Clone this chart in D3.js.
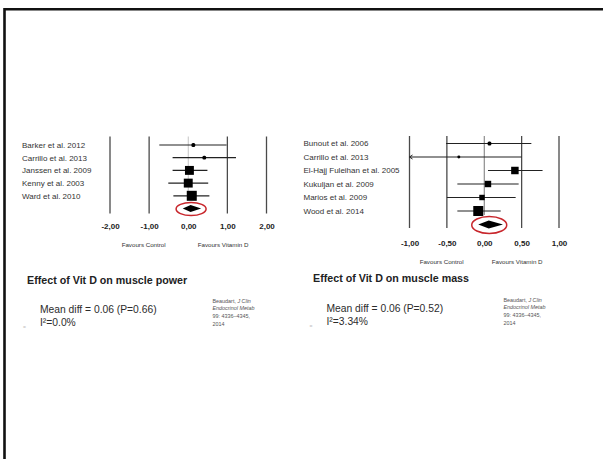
<!DOCTYPE html>
<html>
<head>
<meta charset="utf-8">
<script src="https://cdn.jsdelivr.net/npm/d3@7"></script>
<style>
  html, body { margin: 0; padding: 0; background: #fff; }
  svg { display: block; font-family: "Liberation Sans", Arial, sans-serif; }
</style>
</head>
<body>
<svg id="svg" width="603" height="459"></svg>
<script>
// data: muscle power
const powerStudies = ['Barker et al. 2012', 'Carrillo et al. 2013', 'Janssen et al. 2009', 'Kenny et al. 2003', 'Ward et al. 2010'];
const powerMean  = [0.13, 0.41, 0.03, 0.00, 0.09];
const powerLower = [-0.74, -0.40, -0.40, -0.51, -0.38];
const powerUpper = [0.98, 1.22, 0.49, 0.51, 0.54];
const powerWeight = [5, 5, 27, 27, 34];
const powerPooled = [0.06, -0.14, 0.33];
const powerTicks = [-2, -1, 0, 1, 2];

// data: muscle mass
const massStudies = ['Bunout et al. 2006', 'Carrillo et al. 2013', 'El-Hajj Fuleihan et al. 2005', 'Kukuljan et al. 2009', 'Marios et al. 2009', 'Wood et al. 2014'];
const massMean  = [0.07, -0.34, 0.41, 0.05, -0.03, -0.08];
const massLower = [-0.51, -1.25, 0.05, -0.36, -0.50, -0.36];
const massUpper = [0.63, 0.50, 0.78, 0.46, 0.42, 0.22];
const massWeight = [5, 3, 19, 14, 10, 34];
const massPooled = [0.06, -0.08, 0.25];
const massTicks = [-1, -0.5, 0, 0.5, 1];

const fmt = d3.formatLocale({decimal: ',', thousands: '.', grouping: [3], currency: ['', ''], minus: '-'}).format('.2f');

const svg = d3.select('#svg');

// slide frame
svg.append('path')
  .attr('d', 'M4.5,460 V9.3 H604')
  .attr('fill', 'none')
  .attr('stroke', '#111')
  .attr('stroke-width', 2.6);

function drawForest(cfg){
  const g = svg.append('g');
  const n = cfg.studies.length;
  const x = d3.scaleLinear().domain(d3.extent(cfg.ticks)).range(cfg.xRange);
  const y = d3.scalePoint().domain(d3.range(n + 1)).range(cfg.yRange);
  const side = d3.scaleSqrt().domain([0, 34]).range([0, 10]);
  const rows = d3.range(n);

  // vertical reference lines
  g.selectAll('.grid').data(cfg.ticks).enter()
    .append('line')
    .attr('x1', d => x(d)).attr('x2', d => x(d))
    .attr('y1', cfg.gridTop)
    .attr('y2', d => d === 0 ? cfg.zeroBottom : cfg.gridBottom)
    .attr('stroke', d => d === 0 ? cfg.zeroColor : '#4a4a4a')
    .attr('stroke-width', d => d === 0 ? 1 : 1.3);

  // study labels
  g.selectAll('.lab').data(rows).enter()
    .append('text')
    .attr('x', cfg.labelX)
    .attr('y', i => y(i))
    .attr('dy', '0.35em')
    .attr('font-size', 8)
    .attr('fill', '#333')
    .text(i => cfg.studies[i]);

  // confidence intervals
  g.selectAll('.ci').data(rows).enter()
    .append('line')
    .attr('x1', i => x(Math.max(cfg.lower[i], x.domain()[0])))
    .attr('x2', i => x(Math.min(cfg.upper[i], x.domain()[1])))
    .attr('y1', i => y(i)).attr('y2', i => y(i))
    .attr('stroke', '#222')
    .attr('stroke-width', 1.2);

  // arrow for truncated intervals
  g.selectAll('.arrow').data(rows.filter(i => cfg.lower[i] < x.domain()[0])).enter()
    .append('path')
    .attr('d', i => {
      const x0 = x(x.domain()[0]), y0 = y(i);
      return `M${x0 + 3},${y0 - 2} L${x0},${y0} L${x0 + 3},${y0 + 2}`;
    })
    .attr('fill', 'none')
    .attr('stroke', '#222')
    .attr('stroke-width', 1);

  // point estimates (box area ~ weight)
  g.selectAll('.box').data(rows).enter()
    .append('rect')
    .attr('x', i => x(cfg.mean[i]) - side(cfg.weight[i]) / 2)
    .attr('y', i => y(i) - side(cfg.weight[i]) / 2)
    .attr('width', i => side(cfg.weight[i]))
    .attr('height', i => side(cfg.weight[i]))
    .attr('rx', i => side(cfg.weight[i]) < 5 ? 1.5 : 0)
    .attr('fill', '#000');

  // pooled diamond
  const yp = y(n), [pm, pl, pu] = cfg.pooled;
  g.append('path')
    .attr('d', `M${x(pl)},${yp} L${x(pm)},${yp - cfg.diamondH / 2} L${x(pu)},${yp} L${x(pm)},${yp + cfg.diamondH / 2} Z`)
    .attr('fill', '#000');

  g.append('ellipse')
    .attr('cx', x(pm) + 0.5)
    .attr('cy', yp + 0.5)
    .attr('rx', cfg.ellipse[0])
    .attr('ry', cfg.ellipse[1])
    .attr('fill', 'none')
    .attr('stroke', '#c8262c')
    .attr('stroke-width', 1.5);

  // axis labels
  const axis = d3.axisBottom(x).tickValues(cfg.ticks).tickSize(0).tickPadding(0).tickFormat(fmt);
  const ax = g.append('g').attr('transform', `translate(0,${cfg.axisY})`).call(axis);
  ax.select('.domain').remove();
  ax.selectAll('text')
    .attr('dy', '0.35em')
    .attr('font-family', '"Liberation Sans", Arial, sans-serif')
    .attr('font-size', 8)
    .attr('font-weight', 'bold')
    .attr('fill', '#222');

  // favours labels
  g.append('text')
    .attr('x', x(cfg.favours[0])).attr('y', cfg.favY)
    .attr('dy', '0.35em').attr('text-anchor', 'middle')
    .attr('font-size', 6.2).attr('fill', '#333')
    .text('Favours Control');
  g.append('text')
    .attr('x', x(cfg.favours[1])).attr('y', cfg.favY)
    .attr('dy', '0.35em').attr('text-anchor', 'middle')
    .attr('font-size', 6.2).attr('fill', '#333')
    .text('Favours Vitamin D');

  // title
  g.append('text')
    .attr('x', cfg.titleX).attr('y', cfg.titleY)
    .attr('font-size', 10.7).attr('font-weight', 'bold').attr('fill', '#222')
    .text(cfg.title);

  // summary
  g.append('text')
    .attr('x', cfg.statX).attr('y', cfg.statY)
    .attr('font-size', 10.3).attr('fill', '#2c2c2c')
    .text(cfg.stat1);
  g.append('text')
    .attr('x', cfg.statX).attr('y', cfg.statY + 12.6)
    .attr('font-size', 10.3).attr('fill', '#2c2c2c')
    .text(cfg.stat2);
  g.append('text')
    .attr('x', cfg.statX - 17).attr('y', cfg.statY + 16)
    .attr('font-size', 5).attr('fill', '#bbb')
    .text('=');

  // citation
  const cite = g.append('text')
    .attr('font-size', 5.4).attr('fill', '#555');
  const lines = [['Beaudart, ', 'J Clin'], ['', 'Endocrinol Metab'], ['99: 4336–4345,', ''], ['2014', '']];
  lines.forEach((l, i) => {
    const t = cite.append('tspan').attr('x', cfg.citeX).attr('y', cfg.citeY + i * 7.9);
    t.append('tspan').text(l[0]);
    if (l[1]) t.append('tspan').attr('font-style', 'italic').text(l[1]);
  });
}

drawForest({
  studies: powerStudies, mean: powerMean, lower: powerLower, upper: powerUpper,
  weight: powerWeight, pooled: powerPooled, ticks: powerTicks,
  xRange: [110, 266.5], yRange: [145, 208.5],
  gridTop: 136.5, gridBottom: 213.5, zeroBottom: 198, zeroColor: '#c4c4c4',
  labelX: 22, axisY: 226.5, favY: 245, favours: [-1.14, 0.89],
  diamondH: 7, ellipse: [15, 6.5],
  title: 'Effect of Vit D on muscle power', titleX: 27, titleY: 284,
  stat1: 'Mean diff = 0.06 (P=0.66)', stat2: 'I²=0.0%', statX: 40, statY: 313,
  citeX: 212.5, citeY: 302.5
});

drawForest({
  studies: massStudies, mean: massMean, lower: massLower, upper: massUpper,
  weight: massWeight, pooled: massPooled, ticks: massTicks,
  xRange: [409.5, 559], yRange: [143.5, 224.5],
  gridTop: 136, gridBottom: 228, zeroBottom: 215, zeroColor: '#777',
  labelX: 303.5, axisY: 243.5, favY: 262, favours: [-0.57, 0.44],
  diamondH: 8, ellipse: [17.5, 8.5],
  title: 'Effect of Vit D on muscle mass', titleX: 313, titleY: 281.5,
  stat1: 'Mean diff = 0.06 (P=0.52)', stat2: 'I²=3.34%', statX: 326.5, statY: 312,
  citeX: 503.5, citeY: 301.5
});
</script>
</body>
</html>
